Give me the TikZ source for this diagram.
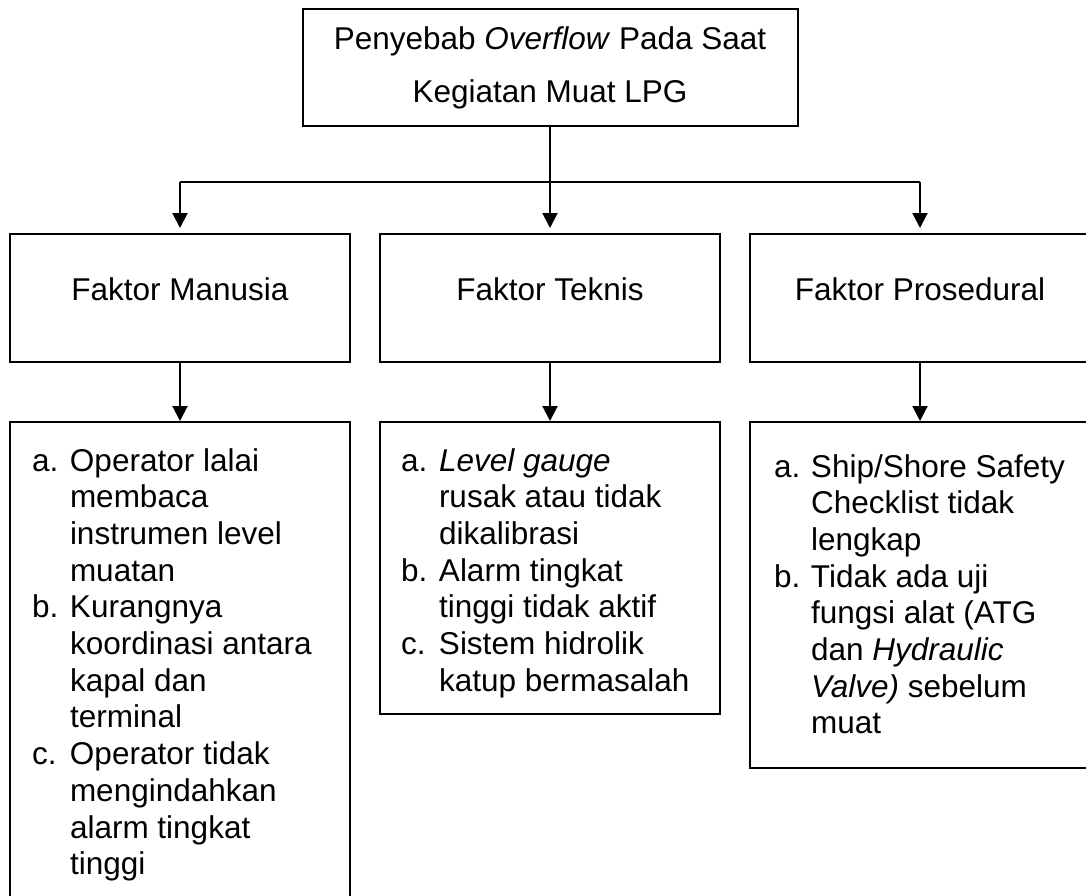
\documentclass[tikz,border=0pt]{standalone}
\usepackage{fontspec}
\setmainfont{Liberation Sans}
\usepackage{tikz}
\usetikzlibrary{arrows.meta}
\usetikzlibrary{shapes}
\tikzstyle{box}=[rectangle,draw=black,inner sep=0pt,font=\fontsize{31.5}{36.7}\selectfont]
\tikzstyle{factor}=[box,minimum width=340pt,minimum height=128pt,text depth=17pt]
\tikzstyle{listbox}=[rectangle,draw=black,minimum width=340pt]
\tikzstyle{list}=[anchor=base west,inner sep=0pt,font=\fontsize{31.5}{36.7}\selectfont]
\tikzstyle{arrow}=[-{Triangle[width=15pt,length=15pt]}]
\tikzset{every picture/.style={
    line width=2pt
  }
}

\begin{document}
\begin{tikzpicture}[x=1pt,y=-1pt]
      \useasboundingbox (0,0) rectangle (1086,895);
      \node[box,minimum width=495pt,minimum height=117pt,align=center,font=\fontsize{31.5}{53}\selectfont] at (550,67.5) (cause) {Penyebab \textit{Overflow} Pada Saat\\Kegiatan Muat LPG};
      \node[factor] at (180,298) (hum) {Faktor Manusia};
      \node[factor] at (550,298) (tek) {Faktor Teknis};
      \node[factor] at (920,298) (pro) {Faktor Prosedural};
      \node[listbox,minimum height=483pt] at (180,663.5) (humlist) {};
      \node[listbox,minimum height=292pt] at (550,568) (teklist) {};
      \node[listbox,minimum height=346pt] at (920,595) (prolist) {};
      \node[list] at (31,471) (humtxt) {\begin{tabular}[t]{@{}p{38pt}@{}l@{}}
        a. & Operator lalai\\
           & membaca\\
           & instrumen level\\
           & muatan\\
        b. & Kurangnya\\
           & koordinasi antara\\
           & kapal dan\\
           & terminal\\
        c. & Operator tidak\\
           & mengindahkan\\
           & alarm tingkat\\
           & tinggi
      \end{tabular}};
      \node[list] at (400,471) (tektxt) {\begin{tabular}[t]{@{}p{38pt}@{}l@{}}
        a. & \textit{Level gauge}\\
           & rusak atau tidak\\
           & dikalibrasi\\
        b. & Alarm tingkat\\
           & tinggi tidak aktif\\
        c. & Sistem hidrolik\\
           & katup bermasalah
      \end{tabular}};
      \node[list] at (773,477) (protxt) {\begin{tabular}[t]{@{}p{37pt}@{}l@{}}
        a. & Ship/Shore Safety\\
           & Checklist tidak\\
           & lengkap\\
        b. & Tidak ada uji\\
           & fungsi alat (ATG\\
           & dan \textit{Hydraulic}\\
           & \textit{Valve)} sebelum\\
           & muat
      \end{tabular}};
      \coordinate (jl) at (180,182);
      \coordinate (jr) at (920,182);
      \draw (jl)--(jr);
      \draw[arrow,shorten >=5pt] (jl)--(hum);
      \draw[arrow,shorten >=5pt] (cause)--(tek);
      \draw[arrow,shorten >=5pt] (jr)--(pro);
      \draw[arrow] (hum)--(humlist);
      \draw[arrow] (tek)--(teklist);
      \draw[arrow] (pro)--(prolist);
    \end{tikzpicture}
\end{document}
